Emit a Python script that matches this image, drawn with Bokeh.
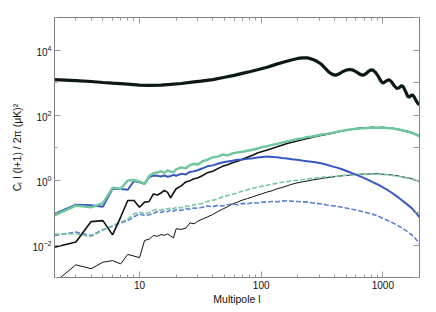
import numpy as np
from bokeh.plotting import figure
from bokeh.models import LogAxis, FixedTicker, LogTickFormatter, Range1d
from bokeh.embed import file_html
from bokeh.resources import INLINE

# ---------------- data (stored as log10 of C_l l(l+1)/2pi) -------------
tt_ell = [2, 3, 4, 5, 6, 8, 10, 12, 15, 18, 22, 27, 32, 40, 50, 60, 70, 80, 95, 112, 130, 154, 180,
          200, 220, 240, 260, 285, 310, 335, 360, 385, 408, 435, 465, 500, 535, 570, 610, 650, 685,
          720, 760, 800, 830, 870, 920, 960, 1000, 1040, 1090, 1130, 1180, 1240, 1300, 1350, 1420,
          1470, 1540, 1600, 1650, 1700, 1750, 1800, 1870, 1940, 2000]
tt_log10 = [3.09, 3.06, 3.03, 3.00, 2.98, 2.95, 2.92, 2.91, 2.92, 2.94, 2.97, 3.01, 3.04, 3.09, 3.16,
            3.22, 3.28, 3.33, 3.40, 3.47, 3.55, 3.63, 3.70, 3.74, 3.76, 3.76, 3.72, 3.66, 3.57, 3.44,
            3.32, 3.25, 3.22, 3.26, 3.33, 3.38, 3.40, 3.38, 3.32, 3.25, 3.22, 3.26, 3.34, 3.39, 3.38,
            3.31, 3.18, 3.05, 2.98, 3.02, 3.07, 3.08, 3.02, 2.90, 2.82, 2.83, 2.90, 2.87, 2.72, 2.57,
            2.55, 2.60, 2.62, 2.57, 2.45, 2.36, 2.31]

ell = [2, 3, 4, 5, 6, 7, 8, 9, 10, 11, 12, 13, 14, 15, 16, 17, 18, 19, 20, 22, 24, 26, 28, 30, 33, 36,
       40, 44, 48, 53, 58, 64, 70, 77, 85, 93, 102, 112, 123, 135, 148, 163, 179, 197, 216, 238, 261,
       287, 316, 347, 382, 420, 462, 508, 558, 614, 675, 742, 816, 897, 986, 1084, 1192, 1310, 1440,
       1583, 1740, 1913, 2000]

green_solid_log10 = [-1.09, -0.79, -0.84, -0.71, -0.24, -0.27, -0.02, 0.00, -0.05, -0.12, 0.12, 0.21,
                     0.23, 0.27, 0.22, 0.30, 0.26, 0.24, 0.33, 0.39, 0.36, 0.46, 0.50, 0.47, 0.58, 0.62,
                     0.70, 0.72, 0.78, 0.76, 0.82, 0.85, 0.87, 0.90, 0.93, 0.97, 1.01, 1.04, 1.08, 1.11,
                     1.15, 1.19, 1.22, 1.26, 1.28, 1.32, 1.34, 1.37, 1.40, 1.42, 1.45, 1.48, 1.51, 1.54,
                     1.56, 1.58, 1.59, 1.60, 1.61, 1.61, 1.61, 1.60, 1.59, 1.56, 1.53, 1.49, 1.45, 1.38,
                     1.34]
blue_solid_log10 = [-1.04, -0.76, -0.78, -0.82, -0.27, -0.28, -0.30, -0.03, -0.07, -0.12, 0.09, 0.14,
                    0.13, 0.11, 0.14, 0.10, 0.12, 0.16, 0.13, 0.19, 0.17, 0.25, 0.27, 0.30, 0.36, 0.42,
                    0.45, 0.50, 0.54, 0.57, 0.59, 0.62, 0.63, 0.65, 0.67, 0.69, 0.71, 0.72, 0.71, 0.70,
                    0.68, 0.66, 0.64, 0.62, 0.60, 0.58, 0.56, 0.54, 0.51, 0.47, 0.42, 0.38, 0.33, 0.27,
                    0.21, 0.15, 0.09, 0.02, -0.06, -0.13, -0.21, -0.30, -0.40, -0.51, -0.63, -0.75,
                    -0.88, -1.05, -1.15]
black_mid_log10 = [-2.07, -1.91, -1.28, -1.25, -1.69, -1.14, -0.63, -0.63, -0.84, -0.68, -0.66, -0.43,
                   -0.46, -0.40, -0.32, -0.38, -0.55, -0.40, -0.27, -0.18, -0.06, -0.02, 0.04, 0.06,
                   0.14, 0.22, 0.27, 0.35, 0.42, 0.47, 0.53, 0.58, 0.64, 0.70, 0.76, 0.83, 0.88, 0.92,
                   0.97, 1.02, 1.07, 1.12, 1.16, 1.20, 1.24, 1.28, 1.31, 1.35, 1.38, 1.41, 1.44, 1.48,
                   1.51, 1.54, 1.56, 1.58, 1.60, 1.60, 1.62, 1.61, 1.62, 1.60, 1.59, 1.57, 1.53, 1.50,
                   1.45, 1.39, 1.35]
green_dash_log10 = [-1.66, -1.66, -1.74, -1.55, -1.40, -1.30, -1.20, -1.04, -0.99, -1.04, -1.00, -0.94,
                    -0.90, -0.93, -0.88, -0.90, -0.85, -0.89, -0.84, -0.86, -0.80, -0.82, -0.76, -0.74,
                    -0.72, -0.66, -0.62, -0.58, -0.52, -0.48, -0.44, -0.40, -0.34, -0.30, -0.26, -0.22,
                    -0.19, -0.16, -0.13, -0.10, -0.07, -0.05, -0.03, -0.01, 0.01, 0.03, 0.05, 0.07,
                    0.08, 0.10, 0.11, 0.12, 0.14, 0.15, 0.16, 0.17, 0.17, 0.18, 0.18, 0.18, 0.17, 0.16,
                    0.14, 0.12, 0.09, 0.06, 0.03, -0.03, -0.06]
blue_dash_log10 = [-1.71, -1.60, -1.71, -1.53, -1.42, -1.32, -1.25, -1.13, -1.04, -1.09, -1.07, -1.03,
                   -0.97, -1.00, -0.95, -0.98, -0.92, -0.96, -0.91, -0.94, -0.88, -0.90, -0.86, -0.87,
                   -0.84, -0.80, -0.82, -0.78, -0.80, -0.76, -0.74, -0.76, -0.72, -0.73, -0.70, -0.71,
                   -0.68, -0.68, -0.66, -0.67, -0.65, -0.64, -0.65, -0.66, -0.67, -0.68, -0.70, -0.72,
                   -0.74, -0.77, -0.79, -0.81, -0.84, -0.87, -0.90, -0.93, -0.97, -1.01, -1.05, -1.10,
                   -1.17, -1.24, -1.31, -1.39, -1.48, -1.58, -1.70, -1.86, -1.96]
black_thin_log10 = [-3.15, -2.61, -2.73, -2.53, -2.48, -2.58, -2.29, -2.34, -2.39, -1.86, -1.82, -1.71,
                    -1.73, -1.68, -1.70, -1.66, -1.72, -1.78, -1.50, -1.52, -1.48, -1.32, -1.35, -1.27,
                    -1.20, -1.14, -1.06, -0.97, -0.90, -0.82, -0.74, -0.68, -0.62, -0.57, -0.52, -0.47,
                    -0.42, -0.37, -0.33, -0.27, -0.23, -0.18, -0.13, -0.09, -0.06, -0.03, 0.00, 0.02,
                    0.05, 0.07, 0.09, 0.11, 0.13, 0.14, 0.16, 0.17, 0.18, 0.18, 0.19, 0.19, 0.18, 0.17,
                    0.15, 0.13, 0.10, 0.07, 0.04, -0.02, -0.05]

x_major = [10, 100, 1000]
x_major_labels = ["10", "100", "1000"]
x_minor = [2, 3, 4, 5, 6, 7, 8, 9, 20, 30, 40, 50, 60, 70, 80, 90,
           200, 300, 400, 500, 600, 700, 800, 900, 2000]
y_labelled = [1e-2, 1e0, 1e2, 1e4]
y_unlabelled = [1e-3, 1e-1, 1e1, 1e3, 1e5]
y_all = [1e-3, 1e-2, 1e-1, 1e0, 1e1, 1e2, 1e3, 1e4, 1e5]

FONT = "Liberation Sans"
AXIS_COL = "#808080"
TICK_COL = "#9a9a9a"

p = figure(width=428, height=310, x_axis_type="log", y_axis_type="log",
           x_range=Range1d(2, 2000), y_range=Range1d(1e-3, 1e5),
           output_backend="svg", toolbar_location=None,
           min_border_left=54, min_border_right=9, min_border_top=17, min_border_bottom=33)
p.grid.visible = False
p.outline_line_color = None
p.background_fill_color = "white"
p.border_fill_color = "white"


def style(ax, labels=True):
    ax.axis_line_color = AXIS_COL
    ax.axis_line_width = 1
    ax.major_tick_line_color = TICK_COL
    ax.minor_tick_line_color = TICK_COL
    ax.major_tick_in = 6
    ax.major_tick_out = 0
    ax.minor_tick_in = 3
    ax.minor_tick_out = 0
    ax.major_label_text_font = FONT
    ax.major_label_text_color = "#111111"
    if labels:
        ax.major_label_text_font_size = "10px"
        ax.major_label_standoff = 3
    else:
        ax.major_label_text_font_size = "4px"
        ax.major_label_text_alpha = 0
        ax.major_label_standoff = 0
    ax.axis_label_text_font = FONT
    ax.axis_label_text_font_style = "normal"
    ax.axis_label_text_font_size = "10.5px"
    ax.axis_label_text_color = "#111111"


xb = p.xaxis[0]
xb.ticker = FixedTicker(ticks=x_major, minor_ticks=x_minor)
xb.major_label_overrides = dict(zip(x_major, x_major_labels))
xb.axis_label = "Multipole l"
style(xb)
xb.axis_label_standoff = 1

yl = p.yaxis[0]
yl.ticker = FixedTicker(ticks=y_labelled, minor_ticks=y_unlabelled)
yl.formatter = LogTickFormatter()
yl.axis_label = "Cₗ l (l+1) / 2π (μK)²"
style(yl)
yl.axis_label_standoff = 6

xt = LogAxis(ticker=FixedTicker(ticks=x_major, minor_ticks=x_minor))
style(xt, labels=False)
p.add_layout(xt, "above")

yr = LogAxis(ticker=FixedTicker(ticks=y_all, minor_ticks=[]))
style(yr, labels=False)
p.add_layout(yr, "right")

# ---------------- lines ----------------
def pw(a):
    return 10 ** np.asarray(a)

p.line(ell, pw(black_thin_log10), line_color="#111111", line_width=1)
p.line(ell, pw(blue_dash_log10), line_color="#5a80d2", line_width=1.6, line_dash="5 2")
p.line(ell, pw(green_dash_log10), line_color="#78c8a2", line_width=1.6, line_dash="5 2")
p.line(ell, pw(black_mid_log10), line_color="#111111", line_width=1.6)
p.line(ell, pw(blue_solid_log10), line_color="#3657c4", line_width=2)
p.line(ell, pw(green_solid_log10), line_color="#6ec59e", line_width=2.4)
p.line(tt_ell, pw(tt_log10), line_color="#0b1a10", line_width=3.2)

open("out.html", "w").write(file_html(p, INLINE))
